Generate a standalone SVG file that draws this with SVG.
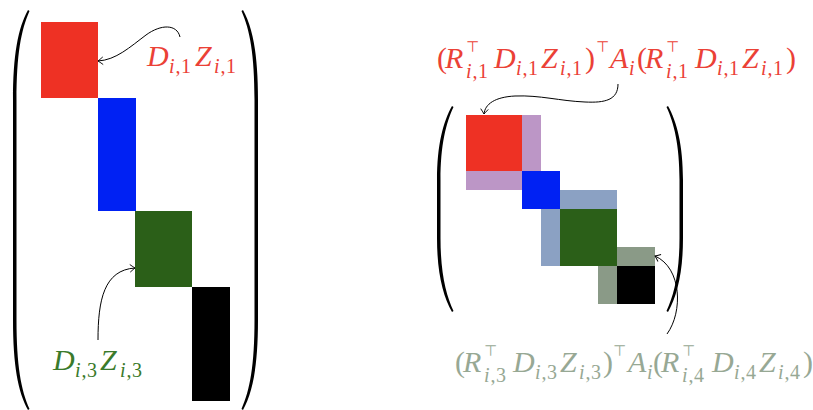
<svg xmlns="http://www.w3.org/2000/svg" width="813" height="410" viewBox="0 0 813 410">
<defs>
<marker id="ah" viewBox="-6 -5 8 10" refX="0" refY="0" markerWidth="8" markerHeight="10" markerUnits="userSpaceOnUse" orient="auto">
<path d="M-5,-3.8 Q-1.5,-1 0,0 Q-1.5,1 -5,3.8" fill="none" stroke="#000" stroke-width="0.9"/>
</marker>
</defs>
<style>
.m{font-family:"Liberation Serif","Times New Roman",serif;font-style:italic;font-size:30px}
.u{font-style:normal}
.s{font-size:20px}
.t{font-family:"DejaVu Sans",sans-serif;font-style:normal;font-size:15px}
.par{fill:#000}
.conn{fill:none;stroke:#000;stroke-width:1;marker-end:url(#ah)}
.red{fill:#ee3124}.blue{fill:#0021f3}.green{fill:#2b5f18}.blk{fill:#000}
.pur{fill:#bc96c6}.stl{fill:#8ba1c3}.gg{fill:#8a9a87}
.tr{fill:#eb4136}.tg{fill:#3a7a2b}.tgr{fill:#97a894}
</style>
<rect width="813" height="410" fill="#fff"/>

<g id="left-matrix">
<path class="par" d="M28,10 C18,28 13,55 13,100 L13,320 C13,365 18,392 28,410 L29.5,409 C21,390 16.5,365 16.5,320 L16.5,100 C16.5,55 21,30 29.5,11 Z"/>
<path class="par" d="M243,10 C253,28 258,55 258,100 L258,320 C258,365 253,392 243,410 L241.5,409 C250,390 254.5,365 254.5,320 L254.5,100 C254.5,55 250,30 241.5,11 Z"/>
</g>
<g id="left-block-1"><rect class="red" x="41" y="22" width="57" height="76"/></g>
<g id="left-block-2"><rect class="blue" x="98" y="98" width="38" height="113"/></g>
<g id="left-block-3"><rect class="green" x="135" y="211" width="57" height="76"/></g>
<g id="left-block-4"><rect class="blk" x="192" y="287" width="38" height="114"/></g>

<g id="label-d1z1">
<text class="m tr" y="66"><tspan x="147">D</tspan><tspan class="s" x="169" y="73">i</tspan><tspan class="s u" x="175.5" y="73">,</tspan><tspan class="s u" x="181" y="73">1</tspan><tspan x="195" y="66">Z</tspan><tspan class="s" x="214" y="73">i</tspan><tspan class="s u" x="220.5" y="73">,</tspan><tspan class="s u" x="226" y="73">1</tspan></text>
</g>
<g id="label-d3z3">
<text class="m tg" y="370"><tspan x="53">D</tspan><tspan class="s" x="75" y="377">i</tspan><tspan class="s u" x="81.5" y="377">,</tspan><tspan class="s u" x="87" y="377">3</tspan><tspan x="100" y="370">Z</tspan><tspan class="s" x="120" y="377">i</tspan><tspan class="s u" x="126.5" y="377">,</tspan><tspan class="s u" x="132" y="377">3</tspan></text>
</g>

<g id="right-matrix">
<path class="par" d="M452,106 C443,122 437,145 437,180 L437,238 C437,273 443,296 452,312 L453.5,311 C446,295 440.5,273 440.5,238 L440.5,180 C440.5,145 446,123 453.5,107 Z"/>
<path class="par" d="M668,106 C677,122 683,145 683,180 L683,238 C683,273 677,296 668,312 L666.5,311 C674,295 679.5,273 679.5,238 L679.5,180 C679.5,145 674,123 666.5,107 Z"/>
</g>
<g id="right-block-1"><rect class="red" x="466" y="115" width="56" height="56"/></g>
<g id="right-coupling-12"><rect class="pur" x="522" y="115" width="19" height="56"/><rect class="pur" x="466" y="171" width="56" height="19"/></g>
<g id="right-block-2"><rect class="blue" x="522" y="171" width="38" height="38"/></g>
<g id="right-coupling-23"><rect class="stl" x="560" y="190" width="57" height="19"/><rect class="stl" x="541" y="209" width="19" height="57"/></g>
<g id="right-block-3"><rect class="green" x="560" y="209" width="57" height="57"/></g>
<g id="right-coupling-34"><rect class="gg" x="617" y="247" width="38" height="19"/><rect class="gg" x="598" y="266" width="19" height="38"/></g>
<g id="right-block-4"><rect class="blk" x="617" y="266" width="38" height="38"/></g>

<g id="label-top">
<text class="m tr" y="68"><tspan class="u" x="437">(</tspan><tspan x="445">R</tspan><tspan class="t" x="466" y="52">⊤</tspan><tspan class="s" x="466" y="78">i</tspan><tspan class="s u" x="472.5" y="78">,</tspan><tspan class="s u" x="478" y="78">1</tspan><tspan x="494" y="68">D</tspan><tspan class="s" x="516" y="75">i</tspan><tspan class="s u" x="522.5" y="75">,</tspan><tspan class="s u" x="528" y="75">1</tspan><tspan x="541" y="68">Z</tspan><tspan class="s" x="560" y="75">i</tspan><tspan class="s u" x="566.5" y="75">,</tspan><tspan class="s u" x="572" y="75">1</tspan><tspan class="u" x="585" y="68">)</tspan><tspan class="t" x="596" y="52">⊤</tspan><tspan x="610" y="68">A</tspan><tspan class="s" x="629" y="75">i</tspan><tspan class="u" x="637" y="68">(</tspan><tspan x="645">R</tspan><tspan class="t" x="666" y="52">⊤</tspan><tspan class="s" x="666" y="78">i</tspan><tspan class="s u" x="672.5" y="78">,</tspan><tspan class="s u" x="678" y="78">1</tspan><tspan x="695" y="68">D</tspan><tspan class="s" x="717" y="75">i</tspan><tspan class="s u" x="723.5" y="75">,</tspan><tspan class="s u" x="729" y="75">1</tspan><tspan x="742" y="68">Z</tspan><tspan class="s" x="761" y="75">i</tspan><tspan class="s u" x="767.5" y="75">,</tspan><tspan class="s u" x="773" y="75">1</tspan><tspan class="u" x="786" y="68">)</tspan></text>
</g>

<g id="label-bottom">
<text class="m tgr" y="372"><tspan class="u" x="455">(</tspan><tspan x="463">R</tspan><tspan class="t" x="484" y="356">⊤</tspan><tspan class="s" x="484" y="382">i</tspan><tspan class="s u" x="490.5" y="382">,</tspan><tspan class="s u" x="496" y="382">3</tspan><tspan x="513" y="372">D</tspan><tspan class="s" x="535" y="379">i</tspan><tspan class="s u" x="541.5" y="379">,</tspan><tspan class="s u" x="547" y="379">3</tspan><tspan x="560" y="372">Z</tspan><tspan class="s" x="579" y="379">i</tspan><tspan class="s u" x="585.5" y="379">,</tspan><tspan class="s u" x="591" y="379">3</tspan><tspan class="u" x="603" y="372">)</tspan><tspan class="t" x="613" y="356">⊤</tspan><tspan x="628" y="372">A</tspan><tspan class="s" x="647" y="379">i</tspan><tspan class="u" x="653" y="372">(</tspan><tspan x="661">R</tspan><tspan class="t" x="682" y="356">⊤</tspan><tspan class="s" x="682" y="382">i</tspan><tspan class="s u" x="688.5" y="382">,</tspan><tspan class="s u" x="694" y="382">4</tspan><tspan x="712" y="372">D</tspan><tspan class="s" x="734" y="379">i</tspan><tspan class="s u" x="740.5" y="379">,</tspan><tspan class="s u" x="746" y="379">4</tspan><tspan x="759" y="372">Z</tspan><tspan class="s" x="778" y="379">i</tspan><tspan class="s u" x="784.5" y="379">,</tspan><tspan class="s u" x="790" y="379">4</tspan><tspan class="u" x="803" y="372">)</tspan></text>
</g>

<g id="connectors">
<path class="conn" d="M180,37 C177,24 161,24 146,35 C130,47 116,60 98,61"/>
<path class="conn" d="M98,340 C98,300 104,270 135,268"/>
<path class="conn" d="M618,84 C618,100 605,103 585,102 C560,101 540,95 515,96 C495,97 485,104 484,114"/>
<path class="conn" d="M667,334 C683,312 682,268 655,256"/>
</g>
</svg>
